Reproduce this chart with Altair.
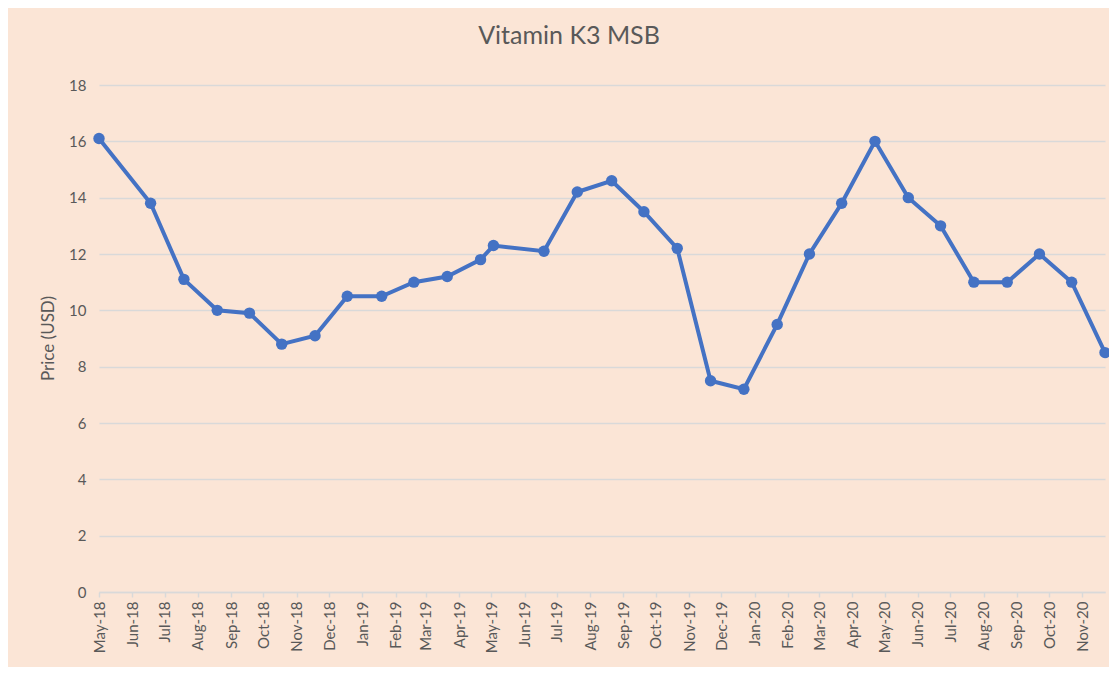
import altair as alt
import pandas as pd

# Data
dates = [
    "2018-05-01", "2018-06-18", "2018-07-19", "2018-08-19", "2018-09-18",
    "2018-10-18", "2018-11-18", "2018-12-18", "2019-01-19", "2019-02-18",
    "2019-03-21", "2019-04-21", "2019-05-03", "2019-06-19", "2019-07-20",
    "2019-08-21", "2019-09-20", "2019-10-21", "2019-11-21", "2019-12-22",
    "2020-01-22", "2020-02-21", "2020-03-22", "2020-04-22", "2020-05-23",
    "2020-06-22", "2020-07-23", "2020-08-23", "2020-09-22", "2020-10-22",
    "2020-11-22",
]
prices = [
    16.1, 13.8, 11.1, 10.0, 9.9,
    8.8, 9.1, 10.5, 10.5, 11.0,
    11.2, 11.8, 12.3, 12.1, 14.2,
    14.6, 13.5, 12.2, 7.5, 7.2,
    9.5, 12.0, 13.8, 16.0, 14.0,
    13.0, 11.0, 11.0, 12.0, 11.0,
    8.5,
]
tick_months = [(y, m) for y in (2018, 2019, 2020) for m in range(1, 13)
               if (y, m) >= (2018, 5) and (y, m) <= (2020, 11)]
y_ticks = [0, 2, 4, 6, 8, 10, 12, 14, 16, 18]

df = pd.DataFrame({"date": dates, "price": prices})

FONT = "Lato"
TXT = "#595959"
BLUE = "#4472C4"

x_enc = alt.X(
    "date:T",
    scale=alt.Scale(type="utc", domain=[alt.DateTime(year=2018, month=5, date=1, utc=True),
                                        alt.DateTime(year=2020, month=11, date=22, utc=True)],
                    nice=False),
    axis=alt.Axis(
        title=None,
        values=[alt.DateTime(year=y, month=m, date=1, utc=True) for y, m in tick_months],
        labelExpr="utcFormat(datum.value, '%b-%y')",
        labelAngle=-90,
        labelAlign="right",
        labelBaseline="middle",
        labelPadding=4,
        labelFont=FONT,
        labelFontSize=15,
        labelColor=TXT,
        labelOverlap=False,
        grid=False,
        domainColor="#D9D9D9",
        domainWidth=1.5,
        tickColor="#D9D9D9",
        tickSize=5,
        tickWidth=1.5,
    ),
)
y_enc = alt.Y(
    "price:Q",
    scale=alt.Scale(domain=[0, 18], nice=False),
    axis=alt.Axis(
        title="Price (USD)",
        values=y_ticks,
        labelFont=FONT,
        labelFontSize=15,
        labelColor=TXT,
        labelPadding=13,
        ticks=False,
        domain=False,
        grid=True,
        gridColor="#D9D9D9",
        gridWidth=1.5,
        titleFont=FONT,
        titleFontSize=17,
        titleFontWeight="normal",
        titleColor=TXT,
        titleAngle=-90,
        titleAlign="center",
        titleBaseline="middle",
        titleX=-51,
        titleY=253,
    ),
)

base = alt.Chart(df).encode(x=x_enc, y=y_enc)
line = base.mark_line(color=BLUE, strokeWidth=4)
pts = base.mark_circle(color=BLUE, size=130, opacity=1)

chart = (line + pts).properties(
    width=1006,
    height=507,
    title=alt.TitleParams(
        "Vitamin K3 MSB",
        font=FONT,
        fontSize=25,
        fontWeight="normal",
        color=TXT,
        anchor="middle",
        dx=-33,
        offset=29,
    ),
    background="#FBE5D6",
    padding={"left": 91, "top": 77, "right": 4, "bottom": 75},
    autosize=alt.AutoSizeParams(type="none"),
).configure_view(stroke=None)

chart.save("out.html", embed_options={"renderer": "svg", "actions": False})
